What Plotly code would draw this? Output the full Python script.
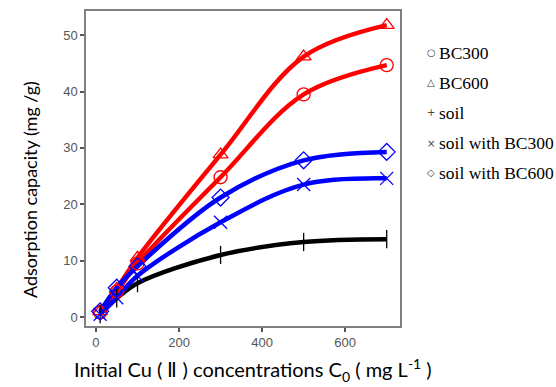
import plotly.graph_objects as go

x_conc = [10, 50, 100, 300, 500, 700]
bc300 = [0.8, 4.5, 9.5, 24.8, 39.5, 44.7]
bc600 = [1.0, 5.0, 10.5, 28.8, 46.2, 51.8]
soil = [0.5, 3.3, 6.0, 11.0, 13.3, 13.8]
soil_bc300 = [0.5, 3.4, 7.3, 16.8, 23.5, 24.6]
soil_bc600 = [1.0, 5.2, 9.0, 21.2, 27.8, 29.3]

series = [
    ("BC300", bc300, "#ff0000", "circle-open"),
    ("BC600", bc600, "#ff0000", "triangle-up-open"),
    ("soil", soil, "#000000", "line-ns-open"),
    ("soil with BC300", soil_bc300, "#0000ff", "x-thin-open"),
    ("soil with BC600", soil_bc600, "#0000ff", "diamond-open"),
]
legend_symbols = ["○", "△", "+", "×", "◇"]

L, R, T, B = 86, 400, 11, 326
W, H = 556, 387

def px_x(p):
    return (p - L) / (R - L)

def px_y(p):
    return 1 - (p - T) / (B - T)

fig = go.Figure()
for name, vals, col, sym in series:
    fig.add_trace(go.Scatter(
        x=x_conc, y=vals, mode="lines", name=name,
        line=dict(color=col, width=4.5, shape="spline", smoothing=1.0),
        showlegend=False, hoverinfo="skip"))
for name, vals, col, sym in series:
    fig.add_trace(go.Scatter(
        x=x_conc, y=vals, mode="markers", name=name,
        marker=dict(symbol=sym, size=13, color=col, line=dict(color=col, width=1.3)),
        showlegend=False))

for i, (s, (name, *_)) in enumerate(zip(legend_symbols, series)):
    yy = 53 + i * 30
    fig.add_annotation(xref="paper", yref="paper", x=px_x(431), y=px_y(yy),
                       text=s, showarrow=False, xanchor="center", yanchor="middle",
                       font=dict(family="DejaVu Sans", size=10, color="#444"))
    fig.add_annotation(xref="paper", yref="paper", x=px_x(437), y=px_y(yy),
                       text=name, showarrow=False, xanchor="left", yanchor="middle",
                       font=dict(family="Liberation Serif", size=17.5, color="#000"))

fig.add_annotation(xref="paper", yref="paper", x=px_x(253), y=px_y(370),
                   text=("Initial Cu ( <span style=\"font-family:'Liberation Serif'\">Ⅱ</span> ) "
                         "concentrations C<sub>0</sub> ( mg L<sup>-1</sup> )"),
                   showarrow=False, xanchor="center", yanchor="middle",
                   font=dict(family="Lato", size=20, color="#000"))
fig.add_annotation(xref="paper", yref="paper", x=px_x(30), y=px_y(190),
                   text="Adsorption capacity (mg /g)", textangle=-90,
                   showarrow=False, xanchor="center", yanchor="middle",
                   font=dict(family="Lato", size=18, color="#000"))

axis_common = dict(showline=True, linecolor="#808080", linewidth=1.5, mirror=True,
                   ticks="outside", ticklen=4, tickwidth=1.5, tickcolor="#555",
                   showgrid=False, zeroline=False, automargin=False,
                   tickfont=dict(family="Liberation Sans", size=13, color="#555"))

fig.update_layout(
    width=W, height=H,
    margin=dict(l=L, r=W - R, t=T, b=H - B),
    plot_bgcolor="white", paper_bgcolor="white",
    xaxis=dict(range=[-24, 732], tickvals=[0, 200, 400, 600], **axis_common),
    yaxis=dict(range=[-1.6, 54.3], tickvals=[0, 10, 20, 30, 40, 50], **axis_common),
)

fig.write_html("out.html", config={"displayModeBar": False},
               post_script="document.body.style.margin='0';document.body.style.overflow='hidden';")
